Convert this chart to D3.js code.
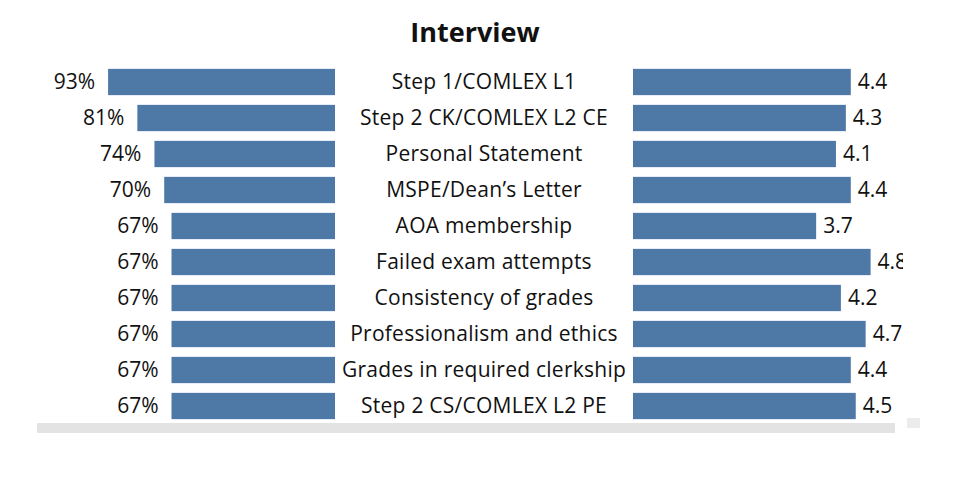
<!DOCTYPE html>
<html>
<head>
<meta charset="utf-8">
<script src="https://cdn.jsdelivr.net/npm/d3@7"></script>
<style>
  body { margin: 0; background: #fff; }
  svg { display: block; font-family: "Open Sans", "Noto Sans", sans-serif; }
</style>
</head>
<body>
<svg id="chart" width="971" height="490"></svg>
<script>
const criteria = [
  'Step 1/COMLEX L1',
  'Step 2 CK/COMLEX L2 CE',
  'Personal Statement',
  'MSPE/Dean\u2019s Letter',
  'AOA membership',
  'Failed exam attempts',
  'Consistency of grades',
  'Professionalism and ethics',
  'Grades in required clerkship',
  'Step 2 CS/COMLEX L2 PE'
];
const pctCiting = [93, 81, 74, 70, 67, 67, 67, 67, 67, 67];
const importance = [4.4, 4.3, 4.1, 4.4, 3.7, 4.8, 4.2, 4.7, 4.4, 4.5];
const title = 'Interview';

const BLUE = '#4e79a7';
const INK = '#111';
const FS = 21;
const svg = d3.select('#chart');

const y = d3.scaleBand().domain(criteria).range([64, 424]).paddingInner(0.27).paddingOuter(0.135);
const xLeft = d3.scaleLinear().domain([0, 100]).range([335, 91]);
const xRight = d3.scaleLinear().domain([0, 5]).range([633, 880.5]);
const mid = d => y(d) + y.bandwidth() / 2;

svg.append('text')
  .attr('x', 475).attr('y', 42)
  .attr('text-anchor', 'middle')
  .attr('font-size', 27).attr('font-weight', 'bold')
  .attr('fill', INK)
  .text(title);

// left bars: % of programs citing
const gL = svg.append('g');
gL.selectAll('rect').data(criteria).join('rect')
  .attr('x', (d, i) => xLeft(pctCiting[i]))
  .attr('width', (d, i) => xLeft(0) - xLeft(pctCiting[i]))
  .attr('y', d => y(d))
  .attr('height', y.bandwidth())
  .attr('fill', BLUE);
gL.selectAll('text').data(criteria).join('text')
  .attr('x', (d, i) => xLeft(pctCiting[i]) - 13)
  .attr('y', mid)
  .attr('dy', '0.35em')
  .attr('text-anchor', 'end')
  .attr('font-size', FS)
  .attr('fill', INK)
  .text((d, i) => pctCiting[i] + '%');

// category labels
svg.append('g').selectAll('text').data(criteria).join('text')
  .attr('x', 484)
  .attr('y', mid)
  .attr('dy', '0.35em')
  .attr('text-anchor', 'middle')
  .attr('font-size', FS)
  .attr('letter-spacing', 0.25)
  .attr('fill', INK)
  .text(d => d);

// right bars: mean importance rating, clipped at the pane edge
svg.append('defs').append('clipPath').attr('id', 'pane')
  .append('rect').attr('x', 600).attr('y', 60).attr('width', 303).attr('height', 370);
const gR = svg.append('g').attr('clip-path', 'url(#pane)');
gR.selectAll('rect').data(criteria).join('rect')
  .attr('x', xRight(0))
  .attr('width', (d, i) => xRight(importance[i]) - xRight(0))
  .attr('y', d => y(d))
  .attr('height', y.bandwidth())
  .attr('fill', BLUE);
gR.selectAll('text').data(criteria).join('text')
  .attr('x', (d, i) => xRight(importance[i]) + 7)
  .attr('y', mid)
  .attr('dy', '0.35em')
  .attr('font-size', FS)
  .attr('fill', INK)
  .text((d, i) => importance[i].toFixed(1));

// scrollbar remnant
svg.append('rect').attr('x', 37).attr('y', 423).attr('width', 858).attr('height', 10).attr('fill', '#e3e3e3');
svg.append('rect').attr('x', 907).attr('y', 418).attr('width', 13).attr('height', 10).attr('fill', '#ececec');
</script>
</body>
</html>
